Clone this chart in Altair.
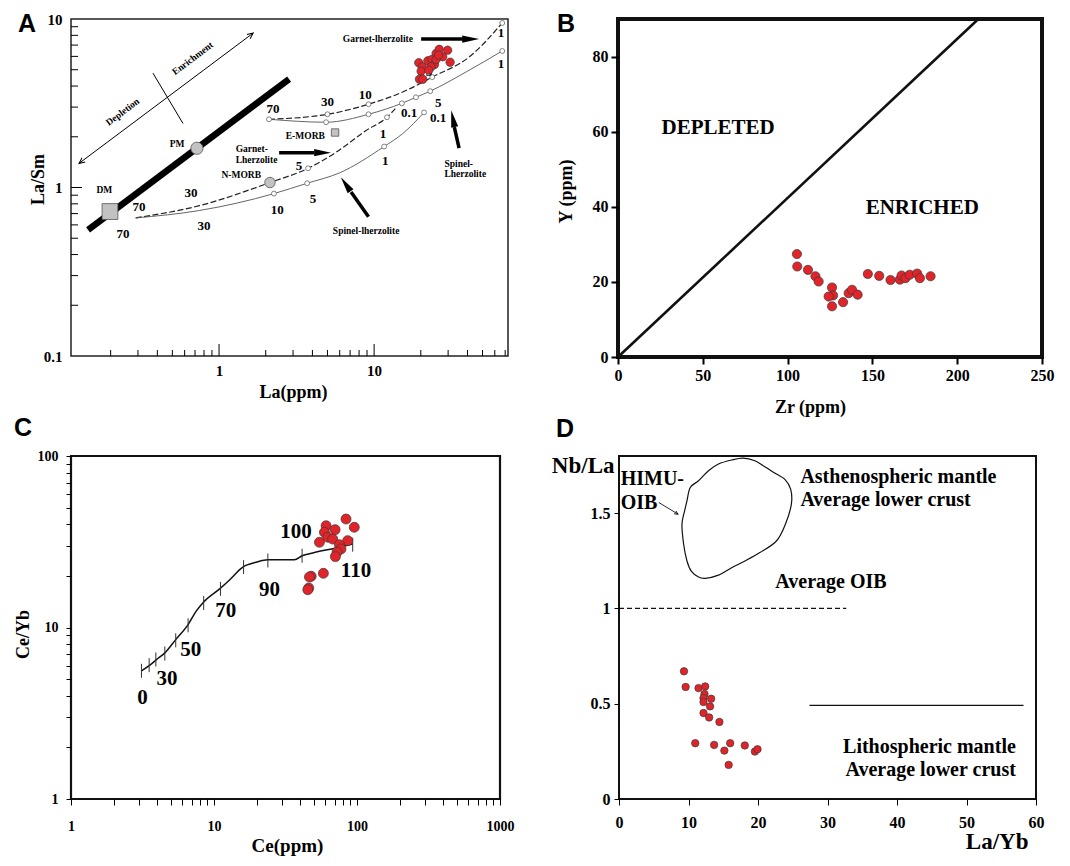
import altair as alt
import pandas as pd

SERIF = "Liberation Serif"
SANS = "Liberation Sans"
RED = "#e0242a"
EDGE = "#3a3a3a"
HEAD = "M0,0L0.42,2L-0.42,2Z"
VHEAD = "M-0.5,1.1L0,0L0.5,1.1"
TICK = "M0,-1L0,1"

# ================= Panel A : La/Sm vs La =================
a_red_la = [19.4, 20.4, 20.1, 19.6, 22.2, 23.6, 25.1, 26.3, 29.8, 27.7, 24.5, 23.3, 30.9, 22.5, 25.1, 26.0, 20.6]
a_red_lasm = [5.50, 5.20, 4.90, 4.39, 5.65, 5.75, 6.25, 6.61, 6.53, 5.97, 5.37, 5.20, 5.54, 4.97, 5.75, 6.11, 4.39]

a_gt_upper_la = [2.1, 5.0, 9.2, 15.3, 23.7, 41.2, 67]
a_gt_upper_lasm = [2.54, 2.72, 3.12, 3.69, 4.52, 5.97, 9.47]
a_sp_upper_la = [2.1, 4.9, 9.2, 15.1, 18.6, 23, 39.2, 67]
a_sp_upper_lasm = [2.54, 2.44, 2.72, 3.16, 3.43, 3.73, 4.85, 6.46]
a_gt_lower_la = [0.29, 0.746, 2.13, 3.75, 5.69, 8.88, 12.1, 13.7]
a_gt_lower_lasm = [0.66, 0.78, 1.07, 1.30, 1.62, 2.18, 2.61, 2.94]
a_sp_lower_la = [0.29, 0.746, 2.26, 3.7, 5.97, 11.6, 15.3, 21]
a_sp_lower_lasm = [0.66, 0.73, 0.92, 1.06, 1.22, 1.75, 2.09, 2.79]

a_ring_la = [2.1, 5.0, 9.2, 23.7, 67, 4.9, 9.2, 15.1, 18.6, 23, 67, 3.75, 12.1, 2.26, 3.7, 11.6, 21]
a_ring_lasm = [2.54, 2.72, 3.12, 4.52, 9.47, 2.44, 2.72, 3.16, 3.43, 3.73, 6.46, 1.30, 2.61, 0.92, 1.06, 1.75, 2.79]

a_mantle_la = [0.143, 2.83]
a_mantle_lasm = [0.56, 4.4]

a_dm = (0.198, 0.72)
a_pm = (0.72, 1.71)
a_nmorb = (2.13, 1.07)
a_emorb = (5.6, 2.12)

a_num_t = ["70", "30", "10", "5", "1", "1", "5", "0.1", "0.1", "1", "1", "5", "5", "10", "30", "70", "30", "70"]
a_num_x = [2.23, 5.0, 8.75, 22.6, 65.9, 65.9, 25.9, 16.8, 25.9, 11.4, 11.8, 3.28, 4.04, 2.37, 0.66, 0.305, 0.80, 0.24]
a_num_y = [2.91, 3.21, 3.53, 4.84, 8.25, 5.40, 3.16, 2.75, 2.58, 2.09, 1.43, 1.35, 0.85, 0.74, 0.93, 0.77, 0.59, 0.53]

a_name_t = ["DM", "PM", "N-MORB", "E-MORB", "Garnet-lherzolite", "Spinel-lherzolite"]
a_name_x = [0.182, 0.536, 1.39, 3.6, 10.57, 8.88]
a_name_y = [0.97, 1.82, 1.18, 2.02, 7.6, 0.55]
a_left_t = ["Garnet-", "Lherzolite", "Spinel-", "Lherzolite"]
a_left_x = [1.28, 1.28, 28.4, 28.4]
a_left_y = [1.70, 1.46, 1.38, 1.21]
a_rot_t = ["Depletion", "Enrichment"]
a_rot_x = [0.239, 0.676]
a_rot_y = [2.81, 5.84]

a_arrow_parts = [
    ("g1", [20.1, 37.3], [7.6, 7.6]),
    ("g2", [2.44, 4.1], [1.61, 1.61]),
    ("s1", [9.2, 7.1], [0.67, 0.94]),
    ("s2", [35.3, 32.9], [1.71, 2.28]),
]
a_head_la = [47.6, 5.28, 6.1, 31.4]
a_head_lasm = [7.6, 1.61, 1.15, 2.87]
a_head_ang = [90, 90, 325, 348]

a_dbl_la = [0.125, 1.66]
a_dbl_lasm = [1.39, 8.25]
a_dbl_ang = [233, 53]
a_bar_la = [0.375, 0.585]
a_bar_lasm = [4.77, 2.40]

a_xtick_minor = [0.2, 0.3, 0.4, 0.5, 0.6, 0.7, 0.8, 0.9, 2, 3, 4, 5, 6, 7, 8, 9, 20, 30, 40, 50, 60, 70]
a_xtick_major = [1, 10]
a_ytick_minor = [0.2, 0.3, 0.4, 0.5, 0.6, 0.7, 0.8, 0.9, 2, 3, 4, 5, 6, 7, 8, 9]
a_ytick_major = [1]

# ================= Panel B : Y vs Zr =================
b_zr = [105.5, 105.7, 112, 116.4, 118.3, 126.2, 126.8, 124.2, 126.2, 132.7, 136, 138, 141.3,
        147.3, 154, 160.7, 166.2, 167.2, 169.5, 172, 176.4, 178, 184.3]
b_y = [27.4, 24.1, 23.2, 21.5, 20.1, 18.5, 16.4, 16.1, 13.5, 14.6, 17.0, 17.9, 16.6,
       22.1, 21.6, 20.5, 20.6, 21.7, 21.0, 21.9, 22.2, 21.0, 21.5]
b_line_zr = [0, 212.5]
b_line_y = [0, 90]
b_lab_t = ["DEPLETED", "ENRICHED"]
b_lab_x = [59, 179.4]
b_lab_y = [60.9, 39.6]

# ================= Panel C : Ce/Yb vs Ce =================
c_line_ce = [3.11, 3.56, 3.96, 4.53, 5.40, 6.59, 7.53, 8.47, 10.95, 12.9, 15.9, 19.7, 23.8, 28.7, 36.5, 41.3, 49.1, 71.3, 93.3]
c_line_ceyb = [5.59, 6.03, 6.5, 7.11, 8.5, 10.4, 12.5, 14.1, 16.8, 19.0, 22.5, 24.0, 24.8, 24.8, 24.8, 26.2, 27.2, 29.1, 30.7]
c_tick_ce = [3.11, 3.52, 3.92, 4.53, 5.40, 6.59, 8.47, 11.1, 16.1, 23.8, 41.3, 93.3]
c_tick_ceyb = [5.59, 6.03, 6.51, 7.05, 8.42, 10.3, 13.9, 16.8, 22.5, 24.6, 26.2, 30.4]
c_lab_t = ["0", "30", "50", "70", "90", "100", "110"]
c_lab_ce = [3.16, 4.70, 6.87, 12.1, 24.4, 37.5, 98.4]
c_lab_ceyb = [3.86, 4.98, 7.37, 12.4, 16.6, 35.9, 21.3]
c_red_ce = [60.8, 59.2, 70.3, 83.8, 95.7, 86.1, 62.4, 67.6, 54.6, 75.3, 77.3, 72.5, 70.6, 58.2, 47.8, 46.5, 46.0, 45.3]
c_red_ceyb = [39.2, 35.9, 37.2, 42.9, 38.4, 32.1, 33.6, 32.8, 31.4, 30.4, 28.7, 27.5, 25.9, 20.7, 19.9, 19.7, 17.0, 16.6]
c_xticks = [1, 2, 3, 4, 5, 6, 7, 8, 9, 10, 20, 30, 40, 50, 60, 70, 80, 90,
            100, 200, 300, 400, 500, 600, 700, 800, 900, 1000]
c_yticks = [1, 2, 3, 4, 5, 6, 7, 8, 9, 10, 20, 30, 40, 50, 60, 70, 80, 90, 100]

# ================= Panel D : Nb/La vs La/Yb =================
d_red_layb = [9.35, 9.59, 11.44, 12.4, 12.3, 12.16, 13.26, 12.16, 13.1, 12.16, 12.97, 14.45,
              10.97, 13.69, 16.0, 15.16, 18.1, 19.55, 19.93, 15.78]
d_red_nbla = [0.670, 0.588, 0.582, 0.591, 0.551, 0.530, 0.526, 0.509, 0.486, 0.451, 0.428, 0.404,
              0.293, 0.284, 0.293, 0.254, 0.281, 0.249, 0.261, 0.179]
d_himu_layb = [9.06, 9.30, 9.78, 10.40, 11.44, 12.40, 14.31, 16.21, 18.12, 20.27, 22.65, 23.94, 24.80,
               24.70, 23.84, 22.65, 20.98, 19.55, 17.88, 16.21, 14.31, 12.88, 11.44, 10.25, 9.78, 9.44]
d_himu_nbla = [1.442, 1.337, 1.249, 1.196, 1.165, 1.158, 1.175, 1.214, 1.249, 1.293, 1.354, 1.442, 1.547,
               1.626, 1.679, 1.705, 1.744, 1.775, 1.789, 1.779, 1.758, 1.723, 1.670, 1.635, 1.565, 1.512]
d_oib_layb = [0, 32.7]
d_oib_nbla = [1.0, 1.0]
d_lith_layb = [27.4, 58.2]
d_lith_nbla = [0.491, 0.491]
d_arrow_layb = [5.72, 8.49]
d_arrow_nbla = [1.556, 1.495]
d_arrow_ang = [121]
d_left_t = ["HIMU-", "OIB", "Asthenospheric mantle", "Average lower crust"]
d_left_x = [0.24, 0.24, 26.1, 26.1]
d_left_y = [1.679, 1.551, 1.691, 1.568]
d_right_t = ["Lithospheric mantle", "Average lower crust"]
d_right_x = [57.1, 57.1]
d_right_y = [0.275, 0.153]
d_mid_t = ["Average OIB"]
d_mid_x = [30.5]
d_mid_y = [1.14]


def frame(**cols):
    return pd.DataFrame(cols)


def curves(parts):
    rows = []
    for name, xs, ys in parts:
        for i, (x, y) in enumerate(zip(xs, ys)):
            rows.append(dict(x=x, y=y, c=name, o=i))
    return pd.DataFrame(rows)


def axis(**kw):
    base = dict(grid=False, domain=False, labelFont=SERIF, labelFontWeight="bold",
                labelColor="black", titleFont=SERIF, titleFontWeight="bold",
                titleColor="black", tickColor="black", labelFlush=False,
                labelOverlap=False, labelBound=False, titleAlign="center",
                titleBaseline="middle")
    base.update(kw)
    return alt.Axis(**base)


def texts(d, X, Y, size, align="center", angle=0, font=SERIF):
    return alt.Chart(d).mark_text(font=font, fontWeight="bold", fontSize=size, align=align,
                                  baseline="middle", color="black", angle=angle).encode(
        x=X("x"), y=Y("y"), text="t:N")


def letter(ch, dx, dy):
    return alt.Chart(frame(t=[ch])).mark_text(font=SANS, fontWeight="bold", fontSize=25,
                                             align="left", baseline="middle", color="black").encode(
        text="t:N", x=alt.value(dx), y=alt.value(dy))


def reddots(d, X, Y, size):
    return alt.Chart(d).mark_point(shape="circle", filled=True, fill=RED, stroke=EDGE,
                                   strokeWidth=0.7, size=size, opacity=1).encode(x=X("x"), y=Y("y"))


# ---------------- Panel A chart ----------------
WA, HA = 437, 337
sa_x = alt.Scale(type="log", domain=[0.111, 73], nice=False)
sa_y = alt.Scale(type="log", domain=[0.1, 10], nice=False)
ax_a_x = axis(values=[1, 10], format="~g", ticks=False, labelFontSize=15, labelPadding=7,
              title="La(ppm)", titleFontSize=18, titleX=222, titleY=36, titleAngle=0)
ax_a_y = axis(values=[0.1, 1, 10], format="~g", ticks=False, labelFontSize=15, labelPadding=9,
              title="La/Sm", titleFontSize=18, titleX=-33, titleY=160, titleAngle=270)


def XA(f):
    return alt.X(f"{f}:Q", scale=sa_x, axis=ax_a_x)


def YA(f):
    return alt.Y(f"{f}:Q", scale=sa_y, axis=ax_a_y)


a_layers = [
    alt.Chart(frame(t=a_xtick_minor)).mark_rule(color="black", strokeWidth=1).encode(
        x=XA("t"), y=alt.value(HA), y2=alt.value(HA - 6)),
    alt.Chart(frame(t=a_xtick_major)).mark_rule(color="black", strokeWidth=1).encode(
        x=XA("t"), y=alt.value(HA), y2=alt.value(HA - 12)),
    alt.Chart(frame(t=a_ytick_minor)).mark_rule(color="black", strokeWidth=1).encode(
        y=YA("t"), x=alt.value(0), x2=alt.value(7)),
    alt.Chart(frame(t=a_ytick_major)).mark_rule(color="black", strokeWidth=1).encode(
        y=YA("t"), x=alt.value(0), x2=alt.value(11)),
    alt.Chart(frame(x=a_mantle_la, y=a_mantle_lasm)).mark_line(
        color="black", strokeWidth=6.5, strokeCap="butt").encode(x=XA("x"), y=YA("y")),
    alt.Chart(curves([("gu", a_gt_upper_la, a_gt_upper_lasm),
                      ("gl", a_gt_lower_la, a_gt_lower_lasm)])).mark_line(
        color="#222", strokeWidth=1.2, strokeDash=[6, 2.5], interpolate="monotone").encode(
        x=XA("x"), y=YA("y"), detail="c:N", order="o:Q"),
    alt.Chart(curves([("su", a_sp_upper_la, a_sp_upper_lasm),
                      ("sl", a_sp_lower_la, a_sp_lower_lasm)])).mark_line(
        color="#555", strokeWidth=0.9, interpolate="monotone").encode(
        x=XA("x"), y=YA("y"), detail="c:N", order="o:Q"),
    alt.Chart(curves(a_arrow_parts)).mark_line(color="black", strokeWidth=3.5, strokeCap="butt").encode(
        x=XA("x"), y=YA("y"), detail="c:N", order="o:Q"),
    alt.Chart(frame(x=a_head_la, y=a_head_lasm, a=a_head_ang)).mark_point(
        shape=HEAD, filled=True, color="black", size=289, opacity=1).encode(
        x=XA("x"), y=YA("y"), angle=alt.Angle("a:Q", scale=None)),
    alt.Chart(frame(x=a_dbl_la, y=a_dbl_lasm)).mark_line(color="black", strokeWidth=1).encode(
        x=XA("x"), y=YA("y")),
    alt.Chart(frame(x=a_bar_la, y=a_bar_lasm)).mark_line(color="black", strokeWidth=1).encode(
        x=XA("x"), y=YA("y")),
    alt.Chart(frame(x=a_dbl_la, y=a_dbl_lasm, a=a_dbl_ang)).mark_point(
        shape=VHEAD, filled=False, color="black", strokeWidth=1, size=110, opacity=1).encode(
        x=XA("x"), y=YA("y"), angle=alt.Angle("a:Q", scale=None)),
    alt.Chart(frame(x=a_ring_la, y=a_ring_lasm)).mark_point(
        shape="circle", filled=True, fill="white", stroke="#666", strokeWidth=0.8, size=24,
        opacity=1).encode(x=XA("x"), y=YA("y")),
    alt.Chart(frame(x=[a_dm[0]], y=[a_dm[1]])).mark_point(
        shape="square", filled=True, fill="#c2c2c2", stroke="#555", strokeWidth=0.8, size=250,
        opacity=1).encode(x=XA("x"), y=YA("y")),
    alt.Chart(frame(x=[a_emorb[0]], y=[a_emorb[1]])).mark_point(
        shape="square", filled=True, fill="#c2c2c2", stroke="#555", strokeWidth=0.8, size=55,
        opacity=1).encode(x=XA("x"), y=YA("y")),
    alt.Chart(frame(x=[a_pm[0]], y=[a_pm[1]])).mark_point(
        shape="circle", filled=True, fill="#c2c2c2", stroke="#555", strokeWidth=0.8, size=150,
        opacity=1).encode(x=XA("x"), y=YA("y")),
    alt.Chart(frame(x=[a_nmorb[0]], y=[a_nmorb[1]])).mark_point(
        shape="circle", filled=True, fill="#c2c2c2", stroke="#555", strokeWidth=0.8, size=110,
        opacity=1).encode(x=XA("x"), y=YA("y")),
    texts(frame(t=a_num_t, x=a_num_x, y=a_num_y), XA, YA, 13),
    texts(frame(t=a_name_t, x=a_name_x, y=a_name_y), XA, YA, 9.5),
    texts(frame(t=a_left_t, x=a_left_x, y=a_left_y), XA, YA, 9.5, align="left"),
    texts(frame(t=a_rot_t, x=a_rot_x, y=a_rot_y), XA, YA, 9.5, angle=323),
    reddots(frame(x=a_red_la, y=a_red_lasm), XA, YA, 70),
    letter("A", -53, 4.5),
]
chart_a = alt.layer(*a_layers).properties(
    width=WA, height=HA, view=alt.ViewBackground(stroke="#222", strokeWidth=1.5))

# ---------------- Panel B chart ----------------
WB, HB = 424, 338
sb_x = alt.Scale(domain=[0, 250], nice=False)
sb_y = alt.Scale(domain=[0, 90], nice=False)
ax_b_x = axis(values=[0, 50, 100, 150, 200, 250], tickSize=7, tickWidth=2, labelFontSize=16,
              labelPadding=3, title="Zr (ppm)", titleFontSize=18, titleX=192, titleY=50, titleAngle=0)
ax_b_y = axis(values=[0, 20, 40, 60, 80], tickSize=7, tickWidth=2, labelFontSize=16,
              labelPadding=3, title="Y (ppm)", titleFontSize=18, titleX=-52, titleY=172, titleAngle=270)


def XB(f):
    return alt.X(f"{f}:Q", scale=sb_x, axis=ax_b_x)


def YB(f):
    return alt.Y(f"{f}:Q", scale=sb_y, axis=ax_b_y)


chart_b = alt.layer(
    alt.Chart(frame(x=b_line_zr, y=b_line_y)).mark_line(color="#111", strokeWidth=2.6).encode(
        x=XB("x"), y=YB("y")),
    texts(frame(t=b_lab_t, x=b_lab_x, y=b_lab_y), XB, YB, 21),
    reddots(frame(x=b_zr, y=b_y), XB, YB, 85),
    letter("B", -61, 5.3),
).properties(width=WB, height=HB, view=alt.ViewBackground(stroke="#111", strokeWidth=4))

# ---------------- Panel C chart ----------------
WC, HC = 429, 343
sc_x = alt.Scale(type="log", domain=[1, 1000], nice=False)
sc_y = alt.Scale(type="log", domain=[1, 100], nice=False)
dec_expr = ("(datum.value==1||datum.value==10||datum.value==100||datum.value==1000)"
            " ? format(datum.value,'d') : ''")
ax_c_x = axis(values=c_xticks, labelExpr=dec_expr, tickSize=6, tickWidth=1, labelFontSize=14,
              labelPadding=14, title="Ce(ppm)", titleFontSize=19, titleX=216, titleY=46, titleAngle=0)
ax_c_y = axis(values=c_yticks, labelExpr=dec_expr, tickSize=5, tickWidth=1, labelFontSize=14,
              labelPadding=8, title="Ce/Yb", titleFontSize=18, titleX=-48, titleY=178, titleAngle=270)


def XC(f):
    return alt.X(f"{f}:Q", scale=sc_x, axis=ax_c_x)


def YC(f):
    return alt.Y(f"{f}:Q", scale=sc_y, axis=ax_c_y)


chart_c = alt.layer(
    alt.Chart(frame(x=c_line_ce, y=c_line_ceyb, o=list(range(len(c_line_ce))))).mark_line(
        color="#111", strokeWidth=1.5, interpolate="monotone").encode(x=XC("x"), y=YC("y"), order="o:Q"),
    alt.Chart(frame(x=c_tick_ce, y=c_tick_ceyb)).mark_point(
        shape=TICK, filled=False, color="#333", strokeWidth=1, size=196, opacity=1).encode(
        x=XC("x"), y=YC("y")),
    texts(frame(t=c_lab_t, x=c_lab_ce, y=c_lab_ceyb), XC, YC, 21),
    reddots(frame(x=c_red_ce, y=c_red_ceyb), XC, YC, 100),
    letter("C", -57, -28),
).properties(width=WC, height=HC, view=alt.ViewBackground(stroke="#111", strokeWidth=2.2))

# ---------------- Panel D chart ----------------
WD, HD = 417, 343
sd_x = alt.Scale(domain=[0, 60], nice=False)
sd_y = alt.Scale(domain=[0, 1.8], nice=False)
ax_d_x = axis(values=[0, 10, 20, 30, 40, 50, 60], tickSize=6, tickWidth=1, labelFontSize=16,
              labelPadding=9, title="La/Yb", titleFontSize=23, titleX=409, titleY=49,
              titleAngle=0, titleAlign="right", titleBaseline="alphabetic")
ax_d_y = axis(values=[0, 0.5, 1, 1.5], format="~g", tickSize=5, tickWidth=1, labelFontSize=16,
              labelPadding=4, title="Nb/La", titleFontSize=23, titleX=-5, titleY=9,
              titleAngle=0, titleAlign="right")


def XD(f):
    return alt.X(f"{f}:Q", scale=sd_x, axis=ax_d_x)


def YD(f):
    return alt.Y(f"{f}:Q", scale=sd_y, axis=ax_d_y)


chart_d = alt.layer(
    alt.Chart(frame(x=d_oib_layb, y=d_oib_nbla)).mark_line(
        color="#111", strokeWidth=1.2, strokeDash=[5, 3]).encode(x=XD("x"), y=YD("y")),
    alt.Chart(frame(x=d_lith_layb, y=d_lith_nbla)).mark_line(
        color="#111", strokeWidth=1.2).encode(x=XD("x"), y=YD("y")),
    alt.Chart(frame(x=d_himu_layb, y=d_himu_nbla, o=list(range(len(d_himu_layb))))).mark_line(
        color="#111", strokeWidth=1.2, interpolate="cardinal-closed").encode(
        x=XD("x"), y=YD("y"), order="o:Q"),
    alt.Chart(frame(x=d_arrow_layb, y=d_arrow_nbla)).mark_line(
        color="#111", strokeWidth=0.9).encode(x=XD("x"), y=YD("y")),
    alt.Chart(frame(x=d_arrow_layb[1:], y=d_arrow_nbla[1:], a=d_arrow_ang)).mark_point(
        shape=VHEAD, filled=False, color="#111", strokeWidth=0.9, size=40, opacity=1).encode(
        x=XD("x"), y=YD("y"), angle=alt.Angle("a:Q", scale=None)),
    texts(frame(t=d_left_t, x=d_left_x, y=d_left_y), XD, YD, 20, align="left"),
    texts(frame(t=d_right_t, x=d_right_x, y=d_right_y), XD, YD, 20, align="right"),
    texts(frame(t=d_mid_t, x=d_mid_x, y=d_mid_y), XD, YD, 20),
    reddots(frame(x=d_red_layb, y=d_red_nbla), XD, YD, 55),
    letter("D", -63, -27),
).properties(width=WD, height=HD, view=alt.ViewBackground(stroke="#111", strokeWidth=2))

chart = alt.vconcat(
    alt.hconcat(chart_a, chart_b, spacing=46),
    alt.hconcat(chart_c, chart_d, spacing=34),
    spacing=-4,
).properties(padding={"left": 4, "top": 2, "right": 0, "bottom": 0})

chart.save("out.html", embed_options={"renderer": "svg", "actions": False})
